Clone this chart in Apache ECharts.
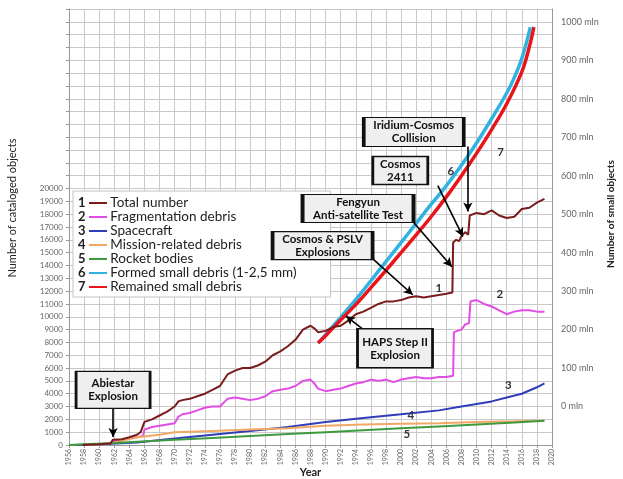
<!DOCTYPE html>
<html>
<head>
<meta charset="utf-8">
<script src="https://cdn.jsdelivr.net/npm/echarts@6/dist/echarts.min.js"></script>
<style>
  html, body { margin: 0; padding: 0; background: #fff; }
  #chart { width: 623px; height: 479px; }
</style>
</head>
<body>
<div id="chart"></div>
<script>
// Catalogued objects in orbit (left axis, count) and small debris (right axis, millions)
const seriesNames = [
  'Total number',
  'Fragmentation debris',
  'Spacecraft',
  'Mission-related debris',
  'Rocket bodies',
  'Formed small debris (1-2,5 mm)',
  'Remained small debris'
];
const seriesColors = ['#7a1c1c', '#e44ce6', '#2f3db8', '#f2a865', '#3f9a3f', '#2fb3e3', '#e8151c'];

// [year, count]
const totalNumber = [
  [1957.8, 2], [1960, 60], [1961.5, 120], [1961.8, 400], [1963, 450], [1964, 600], [1965, 800],
  [1965.5, 1000], [1966, 1800], [1967, 2000], [1968, 2300], [1969, 2600], [1970, 3000],
  [1970.5, 3400], [1971, 3500], [1972, 3600], [1973, 3800], [1974, 4000], [1975, 4300],
  [1976, 4600], [1977, 5500], [1978, 5800], [1979, 6000], [1980, 6000], [1981, 6200],
  [1982, 6500], [1983, 7000], [1984, 7300], [1985, 7700], [1986, 8200], [1987, 9000],
  [1988, 9300], [1988.5, 9100], [1989, 8800], [1990, 8900], [1991, 9200], [1992, 9300],
  [1993, 9700], [1994, 10200], [1995, 10400], [1996, 10700], [1997, 11000], [1998, 11200],
  [1999, 11200], [2000, 11300], [2001, 11500], [2002, 11600], [2003, 11500], [2004, 11600],
  [2005, 11700], [2006, 11800], [2006.8, 11900], [2006.9, 15800], [2007.3, 16000],
  [2007.7, 15900], [2008, 16300], [2008.5, 16600], [2008.9, 16400], [2009.1, 17900],
  [2010, 18100], [2011, 18000], [2012, 18300], [2013, 17900], [2014, 17700], [2015, 17800],
  [2016, 18400], [2017, 18500], [2018, 18900], [2019, 19200]
];
const fragmentationDebris = [
  [1961.8, 300], [1962, 350], [1963, 400], [1964, 500], [1965, 600], [1965.8, 700],
  [1966, 1200], [1967, 1400], [1968, 1500], [1969, 1600], [1970, 1700], [1970.5, 2200],
  [1971, 2400], [1972, 2500], [1973, 2700], [1974, 2900], [1975, 3000], [1976, 3000],
  [1977, 3600], [1978, 3700], [1979, 3600], [1980, 3500], [1981, 3600], [1982, 3800],
  [1983, 4200], [1984, 4300], [1985, 4400], [1986, 4600], [1987, 5000], [1988, 5100],
  [1988.5, 4800], [1989, 4400], [1990, 4200], [1991, 4300], [1992, 4400], [1993, 4600],
  [1994, 4800], [1995, 4900], [1996, 5100], [1997, 5000], [1998, 5100], [1999, 4900],
  [2000, 5100], [2001, 5200], [2002, 5300], [2003, 5200], [2004, 5200], [2005, 5300],
  [2006, 5300], [2006.9, 5400], [2007, 8800], [2008, 9000], [2008.5, 9400], [2009, 9500],
  [2009.2, 11200], [2010, 11300], [2011, 11000], [2012, 10800], [2013, 10500],
  [2014, 10200], [2015, 10400], [2016, 10500], [2017, 10500], [2018, 10400], [2019, 10400]
];
const spacecraft = [
  [1957, 0], [1960, 50], [1965, 200], [1970, 500], [1975, 800], [1980, 1100], [1985, 1400],
  [1990, 1800], [1995, 2100], [2000, 2400], [2005, 2700], [2008, 3000], [2010, 3200],
  [2012, 3400], [2014, 3700], [2016, 4000], [2018, 4500], [2019, 4800]
];
const missionDebris = [
  [1958, 0], [1960, 50], [1962, 200], [1965, 600], [1968, 800], [1970, 1000], [1975, 1100],
  [1980, 1200], [1985, 1300], [1990, 1500], [1995, 1600], [2000, 1650], [2005, 1700],
  [2010, 1800], [2015, 1850], [2019, 1900]
];
const rocketBodies = [
  [1956, 0], [1958, 50], [1962, 150], [1965, 250], [1970, 400], [1975, 550], [1980, 700],
  [1985, 850], [1990, 1000], [1995, 1150], [2000, 1300], [2005, 1450], [2010, 1600],
  [2015, 1750], [2019, 1900]
];
// [year, millions]
const formedSmallDebris = [
  [1989, 165], [1990, 187], [1992, 232], [1994, 278], [1996, 327], [1998, 377], [2000, 426],
  [2002, 476], [2004, 526], [2006, 574], [2008, 627], [2010, 685], [2012, 748], [2014, 815],
  [2015, 855], [2016, 905], [2017, 975], [2017.1, 986]
];
const remainedSmallDebris = [
  [1989, 165], [1990, 184], [1992, 225], [1994, 265], [1996, 309], [1998, 354], [2000, 400],
  [2002, 446], [2004, 494], [2006, 545], [2008, 600], [2010, 658], [2012, 720], [2014, 787],
  [2016, 870], [2017, 935], [2017.6, 986]
];

// Event callouts: box centre [year, count], box size, arrow from/to [year, count]
const events = [
  { text: 'Abiestar\nExplosion', at: [1961.84, 4297], size: [74, 37], from: [1961.84, 2812], to: [1961.84, 625] },
  { text: 'HAPS Step II\nExplosion', at: [1999.2, 7540], size: [75, 39], from: [1994.9, 9063], to: [1992.7, 10050] },
  { text: 'Cosmos & PSLV\nExplosions', at: [1989.6, 15547], size: [100, 28], from: [1996.37, 14453], to: [2001.55, 11719] },
  { text: 'Fengyun\nAnti-satellite Test', at: [1994.3, 18438], size: [111, 28], from: [2001.68, 17344], to: [2006.73, 13906] },
  { text: 'Cosmos\n2411', at: [1999.9, 21406], size: [55, 28], from: [2004.87, 20234], to: [2008.19, 16250] },
  { text: 'Iridium-Cosmos\nCollision', at: [2001.68, 24414], size: [100, 29], from: [2008.85, 23281], to: [2008.85, 18203] }
];
// Curve numbers placed next to each line [label, year, count]
const curveTags = [
  ['1', 2005.0, 12188], ['2', 2013.1, 11719], ['3', 2014.2, 4688], ['4', 2001.3, 2344],
  ['5', 2000.75, 859], ['6', 2006.6, 21328], ['7', 2013.2, 22813]
];

const leftMax = 34000;      // count at the top of the plot
const smallZeroAt = 3000;   // count level where 0 mln sits
const countsPerMln = 30;    // 100 mln on the right spans 3000 on the left
const rightMin = (0 - smallZeroAt) / countsPerMln;
const rightMax = (leftMax - smallZeroAt) / countsPerMln;

const FONT = 'Lato, "Open Sans", sans-serif';

const rich = {
  n: { fontWeight: 'bold', fontSize: 13, color: '#222', fontFamily: FONT, width: 11 },
  t: { fontSize: 13.5, color: '#222', fontFamily: FONT }
};
seriesColors.forEach((c, i) => {
  rich['l' + i] = { width: 18, height: 2, backgroundColor: c };
});

const seriesData = [totalNumber, fragmentationDebris, spacecraft, missionDebris, rocketBodies,
  formedSmallDebris, remainedSmallDebris];

const series = seriesData.map((d, i) => ({
  name: seriesNames[i],
  type: 'line',
  data: d,
  yAxisIndex: i >= 5 ? 1 : 0,
  showSymbol: false,
  smooth: i >= 5 ? 0.4 : false,
  lineStyle: { color: seriesColors[i], width: i >= 5 ? 3.5 : 2 },
  itemStyle: { color: seriesColors[i] },
  z: i >= 5 ? 3 : (i === 0 ? 4 : 2),
  animation: false
}));

// Callouts and arrows ride on the total-number series (left axis)
series[0].markPoint = {
  silent: true,
  animation: false,
  data: events.map(e => ({
    coord: e.at,
    symbol: 'rect',
    symbolSize: e.size,
    itemStyle: { color: '#efefef', borderColor: '#111', borderWidth: 2 },
    label: {
      show: true, position: 'inside', formatter: e.text, color: '#111',
      fontWeight: 'bold', fontSize: 11.5, lineHeight: 13, fontFamily: FONT
    }
  })).concat(curveTags.map(t => ({
    coord: [t[1], t[2]],
    symbol: 'rect',
    symbolSize: 0,
    label: {
      show: true, position: 'inside', formatter: t[0], color: '#333',
      fontWeight: 'bold', fontSize: 11.5, fontFamily: FONT
    }
  })))
};
series[0].markLine = {
  silent: true,
  animation: false,
  symbol: ['none', 'arrow'],
  symbolSize: [7, 9],
  label: { show: false },
  lineStyle: { color: '#000', width: 1.6, type: 'solid' },
  data: events.map(e => [{ coord: e.from }, { coord: e.to }])
};

const chart = echarts.init(document.getElementById('chart'), null, { renderer: 'canvas' });
chart.setOption({
  backgroundColor: '#fff',
  animation: false,
  grid: { left: 69, right: 71, top: 9, bottom: 34, containLabel: false, outerBoundsMode: 'none' },
  legend: {
    orient: 'vertical',
    left: 73, top: 191,
    itemWidth: 0, itemHeight: 0, itemGap: 0,
    icon: 'rect',
    padding: [5, 34, 3, 0],
    backgroundColor: '#fff',
    borderColor: '#c4c4c4',
    borderWidth: 1,
    selectedMode: false,
    data: seriesNames,
    formatter: name => {
      const i = seriesNames.indexOf(name);
      return '{n|' + (i + 1) + '}{l' + i + '|} {t|' + name + '}';
    },
    textStyle: { lineHeight: 13.3, rich: rich }
  },
  xAxis: {
    type: 'value',
    min: 1956, max: 2020, interval: 2,
    name: 'Year',
    nameLocation: 'middle',
    nameGap: 22,
    nameMoveOverlap: false,
    nameTextStyle: { fontWeight: 'bold', fontSize: 11, color: '#222', fontFamily: FONT },
    axisLine: { lineStyle: { color: '#999' } },
    axisTick: { show: true, length: 3, lineStyle: { color: '#999' } },
    axisLabel: { rotate: 90, fontSize: 7, color: '#666', margin: 4, formatter: v => String(v), fontFamily: FONT },
    splitLine: { show: true, lineStyle: { color: '#c9c9c9', width: 1 } }
  },
  yAxis: [
    {
      type: 'value',
      min: 0, max: leftMax, interval: 1000,
      name: 'Number of cataloged objects',
      nameLocation: 'middle',
      nameRotate: 90,
      nameGap: 51,
      nameMoveOverlap: false,
      nameTextStyle: { fontSize: 11, color: '#222', fontFamily: FONT, padding: [0, 0, 0, 38] },
      axisLine: { show: true, lineStyle: { color: '#999' } },
      axisTick: { show: true, length: 3, lineStyle: { color: '#999' } },
      axisLabel: {
        fontSize: 8, color: '#666', margin: 6, fontFamily: FONT,
        formatter: v => (v <= 20000 ? String(v) : '')
      },
      splitLine: { show: true, lineStyle: { color: '#c9c9c9', width: 1 } }
    },
    {
      type: 'value',
      min: rightMin, max: rightMax, interval: 100,
      position: 'right',
      name: 'Number of small objects',
      nameLocation: 'middle',
      nameRotate: 90,
      nameGap: 54,
      nameMoveOverlap: false,
      nameTextStyle: { fontSize: 10, fontWeight: 'bold', color: '#222', fontFamily: FONT, padding: [0, 0, 0, 26] },
      axisLine: { show: true, lineStyle: { color: '#999' } },
      axisTick: { show: false },
      axisLabel: {
        fontSize: 9, color: '#666', margin: 9, fontFamily: FONT,
        formatter: v => (v >= 0 && v <= 1000 && Math.abs(v % 100) < 1e-6 ? v + ' mln' : '')
      },
      splitLine: { show: false }
    }
  ],
  series: series
});
</script>
</body>
</html>
